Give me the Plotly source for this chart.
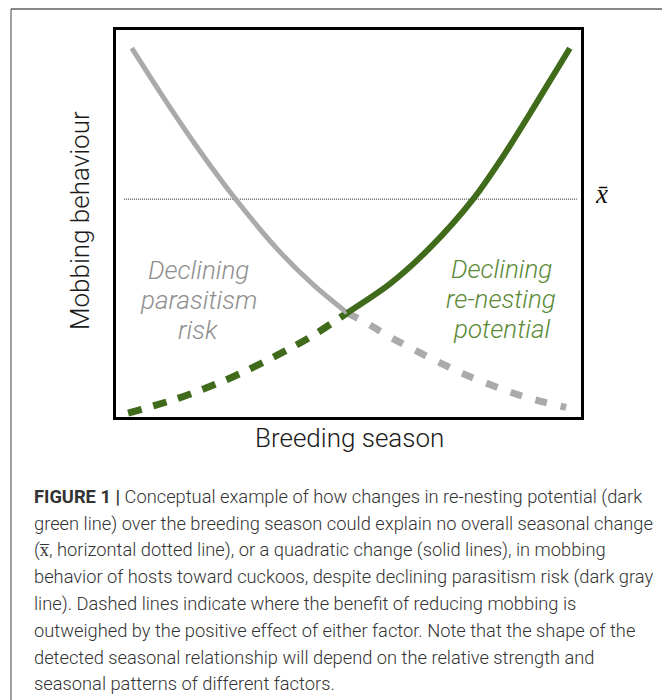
import plotly.graph_objects as go

# ---- data (normalised season position 0..1, mobbing 0..1) ----
gray_solid_x = [0.034, 0.110, 0.181, 0.252, 0.346, 0.424, 0.497]
gray_solid_y = [0.953, 0.811, 0.686, 0.571, 0.435, 0.342, 0.269]
green_solid_x = [0.497, 0.589, 0.675, 0.768, 0.837, 0.903, 0.976]
green_solid_y = [0.269, 0.344, 0.437, 0.563, 0.682, 0.809, 0.953]
green_dash_x = [0.026, 0.084, 0.138, 0.196, 0.252, 0.316, 0.374, 0.428, 0.497]
green_dash_y = [0.010, 0.030, 0.050, 0.076, 0.104, 0.141, 0.177, 0.214, 0.269]
gray_dash_x = [0.497, 0.540, 0.589, 0.639, 0.697, 0.746, 0.804, 0.858, 0.912, 0.968]
gray_dash_y = [0.269, 0.242, 0.207, 0.175, 0.140, 0.112, 0.084, 0.060, 0.041, 0.025]
mean_x = [0.017, 0.991]
mean_y = [0.563, 0.563]

caption_lines = [
    "<b>FIGURE 1 |</b> Conceptual example of how changes in re-nesting potential (dark",
    "green line) over the breeding season could explain no overall seasonal change",
    "(x\u0305, horizontal dotted line), or a quadratic change (solid lines), in mobbing",
    "behavior of hosts toward cuckoos, despite declining parasitism risk (dark gray",
    "line). Dashed lines indicate where the benefit of reducing mobbing is",
    "outweighed by the positive effect of either factor. Note that the shape of the",
    "detected seasonal relationship will depend on the relative strength and",
    "seasonal patterns of different factors.",
]

GRAY = "#aaaaaa"
GREEN = "#3f6b1b"
FONT = "Roboto"

# page has an 8px body margin; reference pixel coords are converted accordingly
OFF = 8
W, H = 670 - OFF, 700 - OFF
REF_L, REF_T, REF_R, REF_B = 116, 30, 581, 417
PW, PH = REF_R - REF_L, REF_B - REF_T
L, T = REF_L - OFF, REF_T - OFF
R, B = W - (REF_R - OFF), H - (REF_B - OFF)


def px(x):
    return (x - REF_L) / PW


def py(y):
    return (REF_B - y) / PH


fig = go.Figure()
fig.add_trace(go.Scatter(x=mean_x, y=mean_y, mode="lines",
                         line=dict(color="#222222", width=1, dash="1px,1px"),
                         hoverinfo="skip"))
fig.add_trace(go.Scatter(x=gray_dash_x, y=gray_dash_y, mode="lines",
                         line=dict(color=GRAY, width=7, dash="12px,14px", shape="spline"),
                         hoverinfo="skip"))
fig.add_trace(go.Scatter(x=green_dash_x, y=green_dash_y, mode="lines",
                         line=dict(color=GREEN, width=7, dash="14px,12px", shape="spline"),
                         hoverinfo="skip"))
fig.add_trace(go.Scatter(x=gray_solid_x, y=gray_solid_y, mode="lines",
                         line=dict(color=GRAY, width=5, shape="spline", smoothing=0.8),
                         hoverinfo="skip"))
fig.add_trace(go.Scatter(x=green_solid_x, y=green_solid_y, mode="lines",
                         line=dict(color=GREEN, width=6, shape="spline", smoothing=0.8),
                         hoverinfo="skip"))

ax = dict(range=[0, 1], showgrid=False, zeroline=False, showticklabels=False,
          ticks="", showline=True, linecolor="black", linewidth=3, mirror=True,
          fixedrange=True)

annotations = []
label_font = dict(family=FONT, size=26, color="#8e8e8e", style="italic", weight=300)
for i, t in enumerate(["Declining", "parasitism", "risk"]):
    annotations.append(dict(x=px(198), y=py(270 + 30 * i), xref="paper", yref="paper",
                            text=t, showarrow=False, font=label_font,
                            xanchor="center", yanchor="middle"))
label_font_g = dict(family=FONT, size=26, color="#5b8a36", style="italic", weight=300)
for i, t in enumerate(["Declining", "re-nesting", "potential"]):
    annotations.append(dict(x=px(501), y=py(269 + 30 * i), xref="paper", yref="paper",
                            text=t, showarrow=False, font=label_font_g,
                            xanchor="center", yanchor="middle"))

annotations.append(dict(x=px(349), y=py(438), xref="paper", yref="paper",
                        text="Breeding season", showarrow=False,
                        font=dict(family=FONT, size=26, color="#1a1a1a", weight=300),
                        xanchor="center", yanchor="middle"))
annotations.append(dict(x=px(80), y=py(221), xref="paper", yref="paper",
                        text="Mobbing behaviour", showarrow=False, textangle=-90,
                        font=dict(family=FONT, size=26, color="#1a1a1a", weight=300),
                        xanchor="center", yanchor="middle"))
annotations.append(dict(x=px(601), y=py(194), xref="paper", yref="paper",
                        text="<i>x\u0304</i>", showarrow=False,
                        font=dict(family="Liberation Serif", size=27, color="#111111"),
                        xanchor="center", yanchor="middle"))

for i, t in enumerate(caption_lines):
    annotations.append(dict(x=px(32), y=py(497 + 26.7 * i), xref="paper", yref="paper",
                            text=t, showarrow=False, align="left",
                            font=dict(family=FONT, size=18.3, color="#333333", weight=300),
                            xanchor="left", yanchor="middle"))

shapes = [
    dict(type="line", xref="paper", yref="paper", x0=px(11), x1=px(680), y0=py(9), y1=py(9),
         line=dict(color="#888888", width=2)),
    dict(type="line", xref="paper", yref="paper", x0=px(11), x1=px(11), y0=py(9), y1=py(720),
         line=dict(color="#444444", width=1)),
]

fig.update_layout(
    width=W, height=H,
    margin=dict(l=L, r=R, t=T, b=B),
    paper_bgcolor="white", plot_bgcolor="white",
    showlegend=False,
    xaxis=ax, yaxis=ax,
    annotations=annotations,
    shapes=shapes,
)

fig.write_html("out.html")
